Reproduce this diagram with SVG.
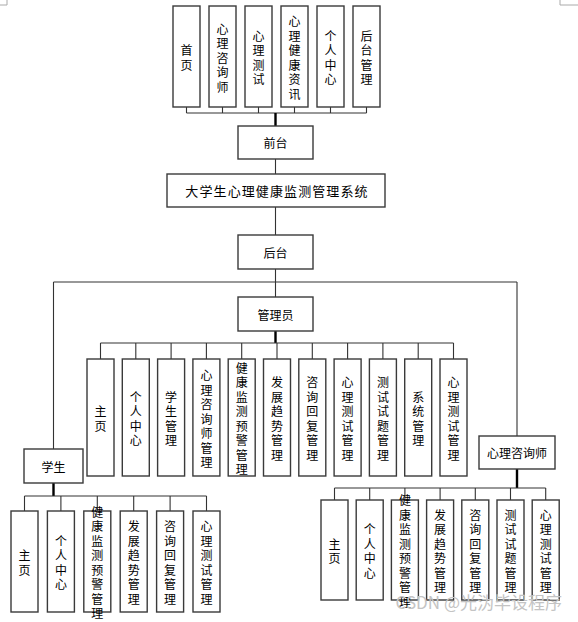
<svg xmlns="http://www.w3.org/2000/svg" width="578" height="622" viewBox="0 0 578 622">
<style>
.b{fill:#fff;stroke:#3a3a3a;stroke-width:1.4}
.c{fill:none;stroke:#333;stroke-width:1.1}
.k{fill:none;stroke:#000;stroke-width:2.4}
text{font-family:"Noto Sans CJK SC","Noto Sans",sans-serif;font-size:12px;fill:#000;text-anchor:middle;dominant-baseline:central}
.t{font-size:13px;letter-spacing:1.1px}
.wm{font-size:17px;fill:#c4c4c4;text-anchor:end;dominant-baseline:alphabetic}
.m{fill:none;stroke:#aaa;stroke-width:1}
</style>
<path class="m" d="M7,0V5H0M560,0V5H578"/>
<g id="connectors">
<path class="c" d="M186.5,107V113M222.5,107V113M258.5,107V113M294.5,107V113M330.5,107V113M366.5,107V113M186.5,113H366.5"/>
<path class="k" d="M275.5,113V126"/>
<path class="c" d="M275.5,159V174M275.5,207V235M275.5,269V282M275.5,282V297M53.5,282H517M53.5,282V449M517,282V436"/>
<path class="k" d="M275.5,331V343"/>
<path class="c" d="M100.5,343H453.5M100.5,343V359M135.8,343V359M171.1,343V359M206.4,343V359M241.7,343V359M277,343V359M312.3,343V359M347.6,343V359M382.9,343V359M418.2,343V359M453.5,343V359"/>
<path class="k" d="M53.5,483V496"/>
<path class="c" d="M24.5,496H206.5M24.5,496V511M60.9,496V511M97.3,496V511M133.7,496V511M170.1,496V511M206.5,496V511"/>
<path class="k" d="M517,469V488"/>
<path class="c" d="M334.5,488H545.7M334.5,488V500M369.7,488V500M404.9,488V500M440.1,488V500M475.3,488V500M510.5,488V500M545.7,488V500"/>
</g>
<g id="top-1"><rect class="b" x="173" y="6" width="27" height="101"/><text><tspan x="186.5" y="49.25">首</tspan><tspan x="186.5" y="63.75">页</tspan></text></g>
<g id="top-2"><rect class="b" x="209" y="6" width="27" height="101"/><text><tspan x="222.5" y="27.5">心</tspan><tspan x="222.5" y="42">理</tspan><tspan x="222.5" y="56.5">咨</tspan><tspan x="222.5" y="71">询</tspan><tspan x="222.5" y="85.5">师</tspan></text></g>
<g id="top-3"><rect class="b" x="245" y="6" width="27" height="101"/><text><tspan x="258.5" y="34.75">心</tspan><tspan x="258.5" y="49.25">理</tspan><tspan x="258.5" y="63.75">测</tspan><tspan x="258.5" y="78.25">试</tspan></text></g>
<g id="top-4"><rect class="b" x="281" y="6" width="27" height="101"/><text><tspan x="294.5" y="20.25">心</tspan><tspan x="294.5" y="34.75">理</tspan><tspan x="294.5" y="49.25">健</tspan><tspan x="294.5" y="63.75">康</tspan><tspan x="294.5" y="78.25">资</tspan><tspan x="294.5" y="92.75">讯</tspan></text></g>
<g id="top-5"><rect class="b" x="317" y="6" width="27" height="101"/><text><tspan x="330.5" y="34.75">个</tspan><tspan x="330.5" y="49.25">人</tspan><tspan x="330.5" y="63.75">中</tspan><tspan x="330.5" y="78.25">心</tspan></text></g>
<g id="top-6"><rect class="b" x="353" y="6" width="27" height="101"/><text><tspan x="366.5" y="34.75">后</tspan><tspan x="366.5" y="49.25">台</tspan><tspan x="366.5" y="63.75">管</tspan><tspan x="366.5" y="78.25">理</tspan></text></g>
<g id="qiantai"><rect class="b" x="238" y="126" width="75" height="33"/><text x="275.5" y="142.5">前台</text></g>
<g id="system"><rect class="b" x="167" y="174" width="218" height="33"/><text class="t" x="277" y="190.5">大学生心理健康监测管理系统</text></g>
<g id="houtai"><rect class="b" x="238" y="235" width="75" height="34"/><text x="275.5" y="252">后台</text></g>
<g id="admin"><rect class="b" x="238" y="297" width="75" height="34"/><text x="275.5" y="314">管理员</text></g>
<g id="a1"><rect class="b" x="87" y="359" width="27" height="117"/><text><tspan x="100.5" y="410.25">主</tspan><tspan x="100.5" y="424.75">页</tspan></text></g>
<g id="a2"><rect class="b" x="122.3" y="359" width="27" height="117"/><text><tspan x="135.8" y="395.75">个</tspan><tspan x="135.8" y="410.25">人</tspan><tspan x="135.8" y="424.75">中</tspan><tspan x="135.8" y="439.25">心</tspan></text></g>
<g id="a3"><rect class="b" x="157.6" y="359" width="27" height="117"/><text><tspan x="171.1" y="395.75">学</tspan><tspan x="171.1" y="410.25">生</tspan><tspan x="171.1" y="424.75">管</tspan><tspan x="171.1" y="439.25">理</tspan></text></g>
<g id="a4"><rect class="b" x="192.9" y="359" width="27" height="117"/><text><tspan x="206.4" y="374">心</tspan><tspan x="206.4" y="388.5">理</tspan><tspan x="206.4" y="403">咨</tspan><tspan x="206.4" y="417.5">询</tspan><tspan x="206.4" y="432">师</tspan><tspan x="206.4" y="446.5">管</tspan><tspan x="206.4" y="461">理</tspan></text></g>
<g id="a5"><rect class="b" x="228.2" y="359" width="27" height="117"/><text><tspan x="241.7" y="366.75">健</tspan><tspan x="241.7" y="381.25">康</tspan><tspan x="241.7" y="395.75">监</tspan><tspan x="241.7" y="410.25">测</tspan><tspan x="241.7" y="424.75">预</tspan><tspan x="241.7" y="439.25">警</tspan><tspan x="241.7" y="453.75">管</tspan><tspan x="241.7" y="468.25">理</tspan></text></g>
<g id="a6"><rect class="b" x="263.5" y="359" width="27" height="117"/><text><tspan x="277" y="381.25">发</tspan><tspan x="277" y="395.75">展</tspan><tspan x="277" y="410.25">趋</tspan><tspan x="277" y="424.75">势</tspan><tspan x="277" y="439.25">管</tspan><tspan x="277" y="453.75">理</tspan></text></g>
<g id="a7"><rect class="b" x="298.8" y="359" width="27" height="117"/><text><tspan x="312.3" y="381.25">咨</tspan><tspan x="312.3" y="395.75">询</tspan><tspan x="312.3" y="410.25">回</tspan><tspan x="312.3" y="424.75">复</tspan><tspan x="312.3" y="439.25">管</tspan><tspan x="312.3" y="453.75">理</tspan></text></g>
<g id="a8"><rect class="b" x="334.1" y="359" width="27" height="117"/><text><tspan x="347.6" y="381.25">心</tspan><tspan x="347.6" y="395.75">理</tspan><tspan x="347.6" y="410.25">测</tspan><tspan x="347.6" y="424.75">试</tspan><tspan x="347.6" y="439.25">管</tspan><tspan x="347.6" y="453.75">理</tspan></text></g>
<g id="a9"><rect class="b" x="369.4" y="359" width="27" height="117"/><text><tspan x="382.9" y="381.25">测</tspan><tspan x="382.9" y="395.75">试</tspan><tspan x="382.9" y="410.25">试</tspan><tspan x="382.9" y="424.75">题</tspan><tspan x="382.9" y="439.25">管</tspan><tspan x="382.9" y="453.75">理</tspan></text></g>
<g id="a10"><rect class="b" x="404.7" y="359" width="27" height="117"/><text><tspan x="418.2" y="395.75">系</tspan><tspan x="418.2" y="410.25">统</tspan><tspan x="418.2" y="424.75">管</tspan><tspan x="418.2" y="439.25">理</tspan></text></g>
<g id="a11"><rect class="b" x="440" y="359" width="27" height="117"/><text><tspan x="453.5" y="381.25">心</tspan><tspan x="453.5" y="395.75">理</tspan><tspan x="453.5" y="410.25">测</tspan><tspan x="453.5" y="424.75">试</tspan><tspan x="453.5" y="439.25">管</tspan><tspan x="453.5" y="453.75">理</tspan></text></g>
<g id="student"><rect class="b" x="24" y="449" width="59" height="34"/><text x="53.5" y="466">学生</text></g>
<g id="counselor"><rect class="b" x="479" y="436" width="76" height="33"/><text x="517" y="452.5">心理咨询师</text></g>
<g id="s1"><rect class="b" x="11" y="511" width="27" height="101"/><text><tspan x="24.5" y="554.25">主</tspan><tspan x="24.5" y="568.75">页</tspan></text></g>
<g id="s2"><rect class="b" x="47.4" y="511" width="27" height="101"/><text><tspan x="60.9" y="539.75">个</tspan><tspan x="60.9" y="554.25">人</tspan><tspan x="60.9" y="568.75">中</tspan><tspan x="60.9" y="583.25">心</tspan></text></g>
<g id="s3"><rect class="b" x="83.8" y="511" width="27" height="101"/><text><tspan x="97.3" y="510.75">健</tspan><tspan x="97.3" y="525.25">康</tspan><tspan x="97.3" y="539.75">监</tspan><tspan x="97.3" y="554.25">测</tspan><tspan x="97.3" y="568.75">预</tspan><tspan x="97.3" y="583.25">警</tspan><tspan x="97.3" y="597.75">管</tspan><tspan x="97.3" y="612.25">理</tspan></text></g>
<g id="s4"><rect class="b" x="120.2" y="511" width="27" height="101"/><text><tspan x="133.7" y="525.25">发</tspan><tspan x="133.7" y="539.75">展</tspan><tspan x="133.7" y="554.25">趋</tspan><tspan x="133.7" y="568.75">势</tspan><tspan x="133.7" y="583.25">管</tspan><tspan x="133.7" y="597.75">理</tspan></text></g>
<g id="s5"><rect class="b" x="156.6" y="511" width="27" height="101"/><text><tspan x="170.1" y="525.25">咨</tspan><tspan x="170.1" y="539.75">询</tspan><tspan x="170.1" y="554.25">回</tspan><tspan x="170.1" y="568.75">复</tspan><tspan x="170.1" y="583.25">管</tspan><tspan x="170.1" y="597.75">理</tspan></text></g>
<g id="s6"><rect class="b" x="193" y="511" width="27" height="101"/><text><tspan x="206.5" y="525.25">心</tspan><tspan x="206.5" y="539.75">理</tspan><tspan x="206.5" y="554.25">测</tspan><tspan x="206.5" y="568.75">试</tspan><tspan x="206.5" y="583.25">管</tspan><tspan x="206.5" y="597.75">理</tspan></text></g>
<g id="c1"><rect class="b" x="321" y="500" width="27" height="100"/><text><tspan x="334.5" y="542.75">主</tspan><tspan x="334.5" y="557.25">页</tspan></text></g>
<g id="c2"><rect class="b" x="356.2" y="500" width="27" height="100"/><text><tspan x="369.7" y="528.25">个</tspan><tspan x="369.7" y="542.75">人</tspan><tspan x="369.7" y="557.25">中</tspan><tspan x="369.7" y="571.75">心</tspan></text></g>
<g id="c3"><rect class="b" x="391.4" y="500" width="27" height="100"/><text><tspan x="404.9" y="499.25">健</tspan><tspan x="404.9" y="513.75">康</tspan><tspan x="404.9" y="528.25">监</tspan><tspan x="404.9" y="542.75">测</tspan><tspan x="404.9" y="557.25">预</tspan><tspan x="404.9" y="571.75">警</tspan><tspan x="404.9" y="586.25">管</tspan><tspan x="404.9" y="600.75">理</tspan></text></g>
<g id="c4"><rect class="b" x="426.6" y="500" width="27" height="100"/><text><tspan x="440.1" y="513.75">发</tspan><tspan x="440.1" y="528.25">展</tspan><tspan x="440.1" y="542.75">趋</tspan><tspan x="440.1" y="557.25">势</tspan><tspan x="440.1" y="571.75">管</tspan><tspan x="440.1" y="586.25">理</tspan></text></g>
<g id="c5"><rect class="b" x="461.8" y="500" width="27" height="100"/><text><tspan x="475.3" y="513.75">咨</tspan><tspan x="475.3" y="528.25">询</tspan><tspan x="475.3" y="542.75">回</tspan><tspan x="475.3" y="557.25">复</tspan><tspan x="475.3" y="571.75">管</tspan><tspan x="475.3" y="586.25">理</tspan></text></g>
<g id="c6"><rect class="b" x="497" y="500" width="27" height="100"/><text><tspan x="510.5" y="513.75">测</tspan><tspan x="510.5" y="528.25">试</tspan><tspan x="510.5" y="542.75">试</tspan><tspan x="510.5" y="557.25">题</tspan><tspan x="510.5" y="571.75">管</tspan><tspan x="510.5" y="586.25">理</tspan></text></g>
<g id="c7"><rect class="b" x="532.2" y="500" width="27" height="100"/><text><tspan x="545.7" y="513.75">心</tspan><tspan x="545.7" y="528.25">理</tspan><tspan x="545.7" y="542.75">测</tspan><tspan x="545.7" y="557.25">试</tspan><tspan x="545.7" y="571.75">管</tspan><tspan x="545.7" y="586.25">理</tspan></text></g>
<text class="wm" x="562" y="609">CSDN @光沩毕设程序</text>
</svg>
